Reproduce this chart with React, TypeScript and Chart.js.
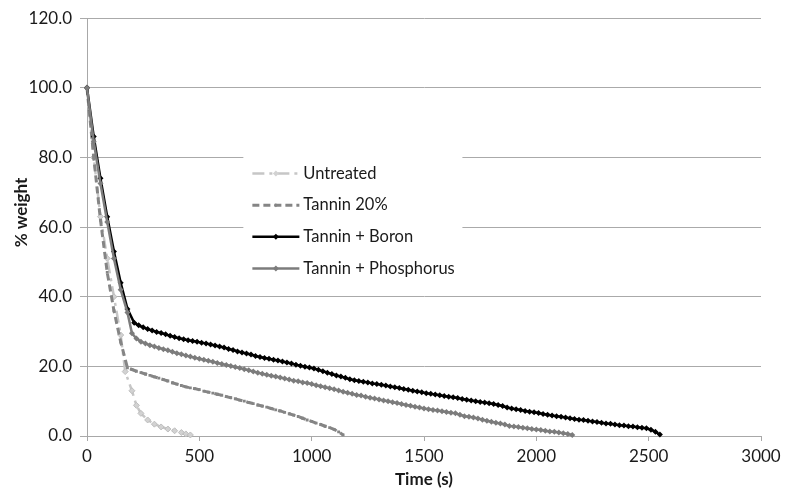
import React, { useEffect, useRef } from "react";
import { Chart, registerables } from "chart.js";

Chart.register(...registerables);

const FONT = "Lato, 'Open Sans', sans-serif";

const seriesNames = ["Untreated", "Tannin 20%", "Tannin + Boron", "Tannin + Phosphorus"];
const xAxisTitle = "Time (s)";
const yAxisTitle = "% weight";
const xMin = 0, xMax = 3000, xStep = 500;
const yMin = 0, yMax = 120, yStep = 20;

// [time (s), % weight]
const untreated: [number, number][] = [
  [0, 100], [30, 80], [60, 63], [90, 51], [120, 40], [150, 29], [170, 18.5], [200, 13],
  [220, 8.8], [240, 6.5], [270, 4.6], [300, 3.4], [330, 2.6], [360, 2.0], [390, 1.5],
  [420, 1.0], [440, 0.6], [460, 0.3],
];

const tannin20: [number, number][] = [
  [0, 100], [30, 80], [60, 62], [90, 47], [120, 36], [150, 27], [180, 19.6],
  [200, 19.1], [220, 18.6], [240, 18.2], [260, 17.8], [280, 17.4], [300, 17.0], [320, 16.6],
  [340, 16.2], [360, 15.8], [380, 15.3], [400, 14.9], [420, 14.5], [440, 14.1], [460, 13.8],
  [480, 13.6], [500, 13.3], [520, 12.9], [540, 12.6], [560, 12.3], [580, 12.0], [600, 11.7],
  [620, 11.3], [640, 11.0], [660, 10.7], [680, 10.3], [700, 10.0], [720, 9.6], [740, 9.3],
  [760, 8.9], [780, 8.6], [800, 8.3], [820, 7.9], [840, 7.5], [860, 7.2], [880, 6.8],
  [900, 6.4], [920, 6.0], [940, 5.6], [960, 5.1], [980, 4.6], [1000, 4.2], [1020, 3.7],
  [1040, 3.3], [1060, 2.8], [1080, 2.4], [1100, 1.9], [1120, 1.2], [1140, 0.3],
];

const boron: [number, number][] = [
  [0, 100], [30, 86], [60, 74], [90, 63], [120, 53], [150, 44], [180, 36.5], [210, 32.5],
  [230, 31.8], [250, 31.2], [270, 30.7], [290, 30.3], [310, 29.9], [330, 29.6], [350, 29.2],
  [370, 28.8], [390, 28.4], [410, 28.1], [430, 27.8], [450, 27.5], [470, 27.3], [490, 27.1],
  [510, 26.8], [530, 26.6], [550, 26.3], [570, 26.0], [590, 25.7], [610, 25.4], [630, 25.0],
  [650, 24.7], [670, 24.3], [690, 24.0], [710, 23.7], [730, 23.4], [750, 23.0], [770, 22.7],
  [790, 22.4], [810, 22.2], [830, 21.9], [850, 21.7], [870, 21.4], [890, 21.1], [910, 20.8],
  [930, 20.5], [950, 20.2], [970, 19.9], [990, 19.7], [1010, 19.4], [1030, 19.0], [1050, 18.6],
  [1070, 18.2], [1090, 17.8], [1110, 17.4], [1130, 17.1], [1150, 16.7], [1170, 16.3],
  [1190, 16.0], [1210, 15.8], [1230, 15.6], [1250, 15.4], [1270, 15.1], [1290, 14.9],
  [1310, 14.7], [1330, 14.5], [1350, 14.2], [1370, 14.0], [1390, 13.8], [1410, 13.5],
  [1430, 13.3], [1450, 13.0], [1470, 12.8], [1490, 12.6], [1510, 12.3], [1530, 12.1],
  [1550, 11.9], [1570, 11.7], [1590, 11.5], [1610, 11.3], [1630, 11.1], [1650, 10.9],
  [1670, 10.6], [1690, 10.4], [1710, 10.2], [1730, 10.0], [1750, 9.8], [1770, 9.6],
  [1790, 9.4], [1810, 9.2], [1830, 8.9], [1850, 8.6], [1870, 8.2], [1890, 7.9], [1910, 7.7],
  [1930, 7.5], [1950, 7.2], [1970, 7.0], [1990, 6.8], [2010, 6.6], [2030, 6.3], [2050, 6.1],
  [2070, 5.9], [2090, 5.7], [2110, 5.5], [2130, 5.3], [2150, 5.1], [2170, 4.9], [2190, 4.7],
  [2210, 4.6], [2230, 4.4], [2250, 4.2], [2270, 4.0], [2290, 3.8], [2310, 3.6], [2330, 3.5],
  [2350, 3.3], [2370, 3.1], [2390, 3.0], [2410, 2.8], [2430, 2.7], [2450, 2.5], [2470, 2.4],
  [2490, 2.2], [2510, 1.8], [2530, 1.2], [2550, 0.4],
];

const phosphorus: [number, number][] = [
  [0, 100], [30, 84.5], [60, 72.5], [90, 61.5], [120, 51], [150, 42], [180, 35.5], [200, 29.5],
  [220, 28.0], [240, 27.1], [260, 26.6], [280, 26.1], [300, 25.7], [320, 25.3], [340, 24.9],
  [360, 24.6], [380, 24.2], [400, 23.8], [420, 23.5], [440, 23.1], [460, 22.8], [480, 22.5],
  [500, 22.2], [520, 21.9], [540, 21.6], [560, 21.3], [580, 21.0], [600, 20.7], [620, 20.4],
  [640, 20.1], [660, 19.8], [680, 19.5], [700, 19.2], [720, 18.9], [740, 18.5], [760, 18.2],
  [780, 17.9], [800, 17.6], [820, 17.3], [840, 17.1], [860, 16.8], [880, 16.5], [900, 16.2],
  [920, 15.9], [940, 15.7], [960, 15.4], [980, 15.2], [1000, 14.9], [1020, 14.6], [1040, 14.3],
  [1060, 14.0], [1080, 13.7], [1100, 13.4], [1120, 13.1], [1140, 12.7], [1160, 12.4],
  [1180, 12.1], [1200, 11.8], [1220, 11.6], [1240, 11.3], [1260, 11.0], [1280, 10.8],
  [1300, 10.5], [1320, 10.2], [1340, 10.0], [1360, 9.7], [1380, 9.5], [1400, 9.2],
  [1420, 8.9], [1440, 8.7], [1460, 8.4], [1480, 8.2], [1500, 7.9], [1520, 7.7], [1540, 7.5],
  [1560, 7.3], [1580, 7.1], [1600, 6.9], [1620, 6.7], [1640, 6.5], [1660, 6.1], [1680, 5.7],
  [1700, 5.5], [1720, 5.3], [1740, 5.0], [1760, 4.7], [1780, 4.4], [1800, 4.1], [1820, 3.8],
  [1840, 3.6], [1860, 3.3], [1880, 2.9], [1900, 2.7], [1920, 2.6], [1940, 2.4], [1960, 2.2],
  [1980, 2.0], [2000, 1.9], [2020, 1.7], [2040, 1.5], [2060, 1.3], [2080, 1.2], [2100, 1.0],
  [2120, 0.8], [2140, 0.6], [2160, 0.3],
];

const toXY = (arr: [number, number][]) => arr.map(([x, y]) => ({ x, y }));

const legendPlugin = {
  id: "boxLegend",
  afterDraw(chart: any) {
    const { ctx, chartArea } = chart;
    const w = chartArea.right - chartArea.left;
    const h = chartArea.bottom - chartArea.top;
    const left = chartArea.left + w * 0.232;
    const top = chartArea.top + h * 0.295;
    const boxW = w * 0.325;
    const boxH = h * 0.355;
    ctx.save();
    ctx.fillStyle = "#ffffff";
    ctx.fillRect(left, top, boxW, boxH);
    const lineX0 = left + 9;
    const lineX1 = left + 56;
    chart.data.datasets.forEach((ds: any, i: number) => {
      const y = top + 32 + i * 31.7;
      ctx.strokeStyle = ds.borderColor;
      ctx.lineWidth = ds.borderWidth;
      ctx.setLineDash(ds.borderDash || []);
      ctx.beginPath();
      ctx.moveTo(lineX0, y);
      ctx.lineTo(lineX1, y);
      ctx.stroke();
      ctx.setLineDash([]);
      const mx = (lineX0 + lineX1) / 2;
      const r = ds.pointRadius;
      ctx.fillStyle = ds.pointBackgroundColor;
      ctx.beginPath();
      ctx.moveTo(mx, y - r);
      ctx.lineTo(mx + r, y);
      ctx.lineTo(mx, y + r);
      ctx.lineTo(mx - r, y);
      ctx.closePath();
      ctx.fill();
      ctx.fillStyle = "#1a1a1a";
      ctx.font = `16.5px ${FONT}`;
      ctx.textBaseline = "middle";
      ctx.textAlign = "left";
      ctx.fillText(ds.label, lineX1 + 4, y);
    });
    ctx.restore();
  },
};

const yTitlePlugin = {
  id: "yTitle",
  afterDraw(chart: any) {
    const { ctx, chartArea } = chart;
    ctx.save();
    ctx.translate(22, chartArea.top + (chartArea.bottom - chartArea.top) * 0.465);
    ctx.rotate(-Math.PI / 2);
    ctx.fillStyle = "#1a1a1a";
    ctx.font = `bold 17px ${FONT}`;
    ctx.textAlign = "center";
    ctx.textBaseline = "middle";
    ctx.fillText(yAxisTitle, 0, 0);
    ctx.restore();
  },
};

export default function App() {
  const canvasRef = useRef<HTMLCanvasElement | null>(null);

  useEffect(() => {
    if (!canvasRef.current) return;
    const chart = new Chart(canvasRef.current, {
      type: "line",
      data: {
        datasets: [
          {
            label: seriesNames[0],
            data: toXY(untreated),
            borderColor: "#c6c6c6",
            backgroundColor: "#c6c6c6",
            borderWidth: 2.5,
            borderDash: [12, 5, 3, 5],
            pointStyle: "rectRot",
            pointRadius: 3,
            pointBackgroundColor: "#d2d2d2",
            pointBorderColor: "#bdbdbd",
            pointBorderWidth: 1,
            tension: 0,
            clip: 8,
            order: 3,
          },
          {
            label: seriesNames[1],
            data: toXY(tannin20),
            borderColor: "#858585",
            backgroundColor: "#858585",
            borderWidth: 3,
            borderDash: [7, 4],
            pointStyle: "rect",
            pointRadius: 2,
            pointBackgroundColor: "#858585",
            pointBorderColor: "#858585",
            pointBorderWidth: 0,
            tension: 0,
            clip: 8,
            order: 2,
          },
          {
            label: seriesNames[2],
            data: toXY(boron),
            borderColor: "#000000",
            backgroundColor: "#000000",
            borderWidth: 2.5,
            pointStyle: "rectRot",
            pointRadius: 3,
            pointBackgroundColor: "#000000",
            pointBorderColor: "#000000",
            pointBorderWidth: 0,
            tension: 0,
            clip: 8,
            order: 1,
          },
          {
            label: seriesNames[3],
            data: toXY(phosphorus),
            borderColor: "#7c7c7c",
            backgroundColor: "#7c7c7c",
            borderWidth: 2.5,
            pointStyle: "rectRot",
            pointRadius: 3,
            pointBackgroundColor: "#7c7c7c",
            pointBorderColor: "#7c7c7c",
            pointBorderWidth: 0,
            tension: 0,
            clip: 8,
            order: 0,
          },
        ],
      },
      options: {
        responsive: false,
        animation: false,
        events: [],
        layout: { padding: { left: 0, right: 28, top: 17, bottom: 0 } },
        plugins: {
          legend: { display: false },
          tooltip: { enabled: false },
        },
        scales: {
          x: {
            type: "linear",
            min: xMin,
            max: xMax,
            ticks: {
              stepSize: xStep,
              color: "#1a1a1a",
              font: { family: FONT, size: 17 },
              padding: 5,
              maxRotation: 0,
              callback: (v: any) => String(v),
            },
            grid: {
              drawOnChartArea: false,
              drawTicks: true,
              tickLength: 5,
              tickColor: "#a8a8a8",
            },
            border: { display: true, color: "#a8a8a8", width: 1 },
            title: {
              display: true,
              text: xAxisTitle,
              color: "#1a1a1a",
              font: { family: FONT, size: 17, weight: "bold" },
              padding: { top: 0, bottom: 4 },
            },
            afterFit: (scale: any) => {
              scale.height = 58;
            },
          },
          y: {
            min: yMin,
            max: yMax,
            ticks: {
              stepSize: yStep,
              color: "#1a1a1a",
              font: { family: FONT, size: 17 },
              padding: 8,
              callback: (v: any) => Number(v).toFixed(1),
            },
            grid: {
              color: "#aaaaaa",
              lineWidth: 1,
              drawTicks: true,
              tickLength: 7,
              tickColor: "#aaaaaa",
            },
            border: { display: true, color: "#a8a8a8", width: 1 },
            afterFit: (scale: any) => {
              scale.width = 87;
            },
          },
        },
      },
      plugins: [legendPlugin, yTitlePlugin],
    } as any);
    return () => chart.destroy();
  }, []);

  return (
    <div style={{ position: "fixed", left: 0, top: 0, width: 789, height: 494, background: "#fff" }}>
      <canvas ref={canvasRef} width={789} height={494} style={{ width: 789, height: 494 }} />
    </div>
  );
}
